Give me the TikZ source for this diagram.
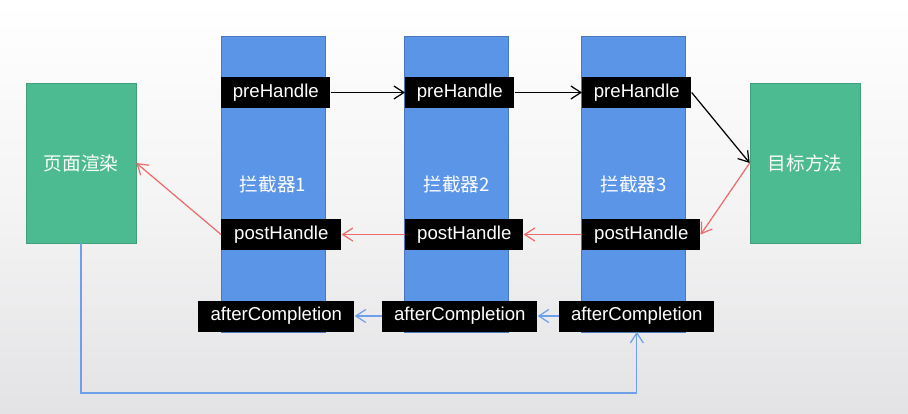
\documentclass[tikz,border=0pt]{standalone}
\usepackage{fontspec}
\setmainfont{Liberation Sans}
\newfontfamily\cjk{Noto Sans CJK SC}
\usetikzlibrary{arrows.meta, positioning}
\definecolor{cblue}{HTML}{5B95E8}
\definecolor{cgreen}{HTML}{4DBB91}
\definecolor{cred}{HTML}{EE6B6B}
\definecolor{cline}{HTML}{6E9FE8}
\definecolor{cbg}{HTML}{E3E3E5}
\tikzset{
  every picture/.style={x=0.02cm, y=-0.02cm, font=\fontsize{10.6}{12}\selectfont},
  col/.style={draw=cblue!80!black, fill=cblue, text=white, minimum width=2.08cm, minimum height=5.92cm, inner sep=0pt, font=\cjk\fontsize{10.6}{12}\selectfont},
  endbox/.style={draw=cgreen!85!black, fill=cgreen, text=white, minimum width=2.2cm, minimum height=3.2cm, inner sep=0pt, font=\cjk\fontsize{10.6}{12}\selectfont},
  hook/.style={fill=black, text=white, minimum height=0.62cm, inner sep=0pt, anchor=west},
  tip/.style={-{Straight Barb[length=2mm, width=2.6mm]}, line width=0.7pt},
}

\begin{document}
\begin{tikzpicture}[
    fwd/.style={tip, draw=black},
    ret/.style={tip, draw=cred},
    done/.style={tip, draw=cline},
  ]
  \shade[top color=white, bottom color=cbg, middle color=white!60!cbg] (0,0) rectangle (908,413);
  \useasboundingbox (0,0) rectangle (908,413);

  % interceptors
  \node[col] (i1) at (273,184) {拦截器1};
  \node[col] (i2) at (456.5,184) {拦截器2};
  \node[col] (i3) at (633.5,184) {拦截器3};

  % ends
  \node[endbox] (render) at (81,163) {页面渲染};
  \node[endbox] (target) at (805,163) {目标方法};

  % hooks
  \node[hook, minimum width=2.18cm] (pre1) at (221,92.5) {preHandle};
  \node[hook, minimum width=2.18cm] (pre2) at (405,92.5) {preHandle};
  \node[hook, minimum width=2.18cm] (pre3) at (582,92.5) {preHandle};
  \node[hook, minimum width=2.4cm] (post1) at (221,234.5) {postHandle};
  \node[hook, minimum width=2.36cm] (post2) at (405,234.5) {postHandle};
  \node[hook, minimum width=2.36cm] (post3) at (582,234.5) {postHandle};
  \node[hook, minimum width=3.12cm] (after1) at (198,316) {afterCompletion};
  \node[hook, minimum width=3.1cm] (after2) at (382,316) {afterCompletion};
  \node[hook, minimum width=3.1cm] (after3) at (559,316) {afterCompletion};

  % calls
  \draw[fwd] (pre1) -- (pre2);
  \draw[fwd] (pre2) -- (pre3);
  \draw[fwd] (pre3.east) -- (target.west);
  \draw[ret] (target.west) -- (post3.east);
  \draw[ret] (post3) -- (post2);
  \draw[ret] (post2) -- (post1);
  \draw[ret] (post1.west) -- (render.east);
  \draw[done] (after3) -- (after2);
  \draw[done] (after2) -- (after1);
  \coordinate (low) at (0,393);
  \draw[done] (render.south) -- (render.south |- low) -| (after3.south);
\end{tikzpicture}
\end{document}
